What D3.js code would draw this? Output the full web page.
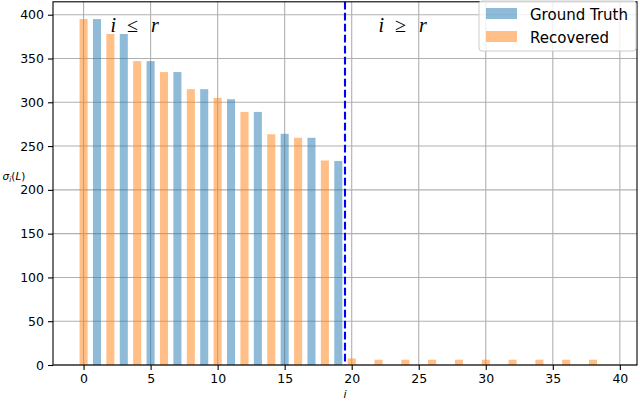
<!DOCTYPE html>
<html>
<head>
<meta charset="utf-8">
<script src="https://cdn.jsdelivr.net/npm/d3@7"></script>
<style>
  body { margin: 0; background: #fff; }
  svg { display: block; font-family: "DejaVu Sans", sans-serif; }
</style>
</head>
<body>
<div id="chart"></div>
<script>
// singular values, index k -> recovered at 2k, ground truth at 2k+1
const groundTruth = [395, 378, 347, 334.5, 315, 303.5, 289, 264, 259.5, 233,
                     0, 0, 0, 0, 0, 0, 0, 0, 0, 0];
const recovered = [395, 378, 347, 334.5, 315, 305, 289, 263.5, 259.5, 233.5,
                   7.5, 6, 6, 6, 6, 6, 6, 6, 6, 6];
const rankLine = 19.5;
const xTicks = [0, 5, 10, 15, 20, 25, 30, 35, 40];
const yTicks = [0, 50, 100, 150, 200, 250, 300, 350, 400];
const seriesNames = ["Ground Truth", "Recovered"];

const W = 640, H = 403;
const plotL = 53, plotR = 637, plotT = 1.8, plotB = 365;
const barW = 0.6;

const svg = d3.select("#chart")
  .append("svg")
    .attr("width", W)
    .attr("height", H);

const x = d3.scaleLinear().domain([-2.28, 41.28]).range([plotL, plotR]);
const y = d3.scaleLinear().domain([0, 395 * 1.05]).range([plotB, plotT]);

// grid
svg.append("g")
  .selectAll("line")
  .data(xTicks)
  .join("line")
    .attr("x1", d => x(d)).attr("x2", d => x(d))
    .attr("y1", plotT).attr("y2", plotB)
    .attr("stroke", "#b0b0b0").attr("stroke-width", 1.1);
svg.append("g")
  .selectAll("line")
  .data(yTicks)
  .join("line")
    .attr("x1", plotL).attr("x2", plotR)
    .attr("y1", d => y(d)).attr("y2", d => y(d))
    .attr("stroke", "#b0b0b0").attr("stroke-width", 1.1);

// bars
const rec = recovered.map((v, k) => ({ pos: 2 * k, v }));
const gt = groundTruth.map((v, k) => ({ pos: 2 * k + 1, v }));

svg.append("g")
  .selectAll("rect")
  .data(rec)
  .join("rect")
    .attr("x", d => x(d.pos - barW / 2))
    .attr("width", x(barW) - x(0))
    .attr("y", d => y(d.v))
    .attr("height", d => y(0) - y(d.v))
    .attr("fill", "#ff7f0e")
    .attr("fill-opacity", 0.5);

svg.append("g")
  .selectAll("rect")
  .data(gt)
  .join("rect")
    .attr("x", d => x(d.pos - barW / 2))
    .attr("width", x(barW) - x(0))
    .attr("y", d => y(d.v))
    .attr("height", d => y(0) - y(d.v))
    .attr("fill", "#1f77b4")
    .attr("fill-opacity", 0.5);

// rank divider
svg.append("line")
  .attr("x1", x(rankLine)).attr("x2", x(rankLine))
  .attr("y1", plotT).attr("y2", plotB)
  .attr("stroke", "#0000ff")
  .attr("stroke-width", 2.1)
  .attr("stroke-dasharray", "7.7,3.3");

// region labels
function regionLabel(xv, yv, sym) {
  const t = svg.append("text")
    .attr("x", x(xv)).attr("y", y(yv))
    .attr("font-family", "'Liberation Serif', 'DejaVu Serif', serif")
    .attr("font-size", 20)
    .attr("fill", "#000");
  t.append("tspan").attr("font-style", "italic").text("i");
  t.append("tspan").attr("dx", 11).text(sym);
  t.append("tspan").attr("dx", 13).attr("font-style", "italic").text("r");
}
regionLabel(2, 380, "≤");
regionLabel(22, 380, "≥");

// axes
const xAxis = svg.append("g")
  .attr("transform", `translate(0,${plotB})`)
  .call(d3.axisBottom(x).tickValues(xTicks).tickSize(5).tickPadding(4));
const yAxis = svg.append("g")
  .attr("transform", `translate(${plotL},0)`)
  .call(d3.axisLeft(y).tickValues(yTicks).tickSize(5).tickPadding(4));
[xAxis, yAxis].forEach(a => {
  a.select(".domain").remove();
  a.selectAll("line").attr("stroke", "#000").attr("stroke-width", 1.1);
  a.selectAll("text")
    .attr("font-family", "'DejaVu Sans', sans-serif")
    .attr("font-size", 12.5)
    .attr("fill", "#000");
});

// frame
svg.append("rect")
  .attr("x", plotL).attr("y", plotT)
  .attr("width", plotR - plotL).attr("height", plotB - plotT)
  .attr("fill", "none").attr("stroke", "#000").attr("stroke-width", 1.1);

// axis labels
const yl = svg.append("text")
  .attr("x", 14).attr("y", 180)
  .attr("text-anchor", "middle")
  .attr("font-size", 10.5)
  .attr("font-family", "'DejaVu Sans', sans-serif");
yl.append("tspan").attr("font-style", "italic").text("σ");
yl.append("tspan").attr("font-style", "italic").attr("font-size", 7.5).attr("dy", 2).text("i");
yl.append("tspan").attr("dy", -2).text("(");
yl.append("tspan").attr("font-style", "italic").text("L");
yl.append("tspan").text(")");

svg.append("text")
  .attr("x", (plotL + plotR) / 2).attr("y", 398)
  .attr("text-anchor", "middle")
  .attr("font-size", 11)
  .attr("font-style", "italic")
  .attr("font-family", "'DejaVu Sans', sans-serif")
  .text("i");

// legend
const lg = svg.append("g").attr("transform", "translate(479,1)");
lg.append("rect")
  .attr("width", 157).attr("height", 50)
  .attr("rx", 3)
  .attr("fill", "#fff").attr("fill-opacity", 0.8)
  .attr("stroke", "#cccccc").attr("stroke-width", 1);
const legendColors = ["#1f77b4", "#ff7f0e"];
seriesNames.forEach((name, i) => {
  lg.append("rect")
    .attr("x", 7).attr("y", 7 + i * 23)
    .attr("width", 31).attr("height", 11)
    .attr("fill", legendColors[i]).attr("fill-opacity", 0.5);
  lg.append("text")
    .attr("x", 51).attr("y", 18.5 + i * 23)
    .attr("font-size", 15)
    .attr("font-family", "'DejaVu Sans', sans-serif")
    .text(name);
});
</script>
</body>
</html>
